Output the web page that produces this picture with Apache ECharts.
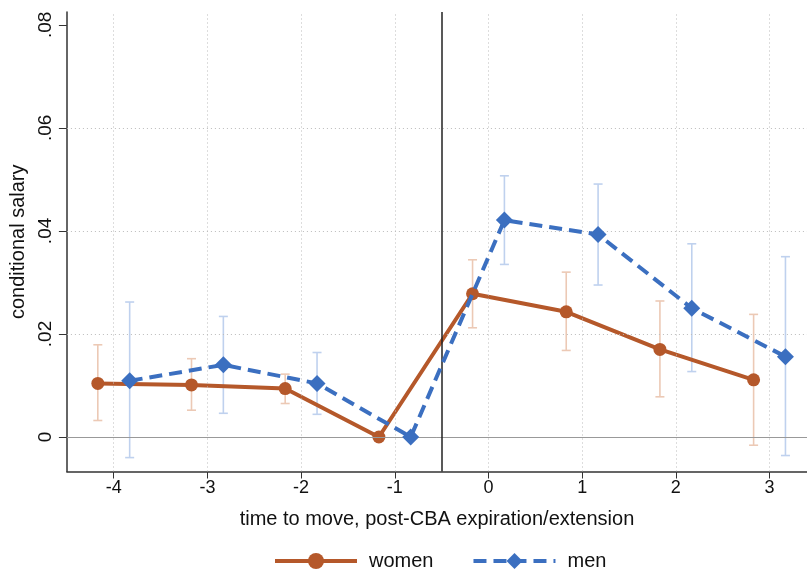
<!DOCTYPE html>
<html>
<head>
<meta charset="utf-8">
<script src="https://cdn.jsdelivr.net/npm/echarts@6/dist/echarts.min.js"></script>
<style>
  html, body { margin: 0; padding: 0; background: #fff; }
  #chart { width: 807px; height: 577px; }
</style>
</head>
<body>
<div id="chart"></div>
<script>
// data
const periods = [-4, -3, -2, -1, 0, 1, 2, 3];
const offset = 0.17; // women left, men right of each period

const womenVals = [0.0104, 0.0101, 0.0094, 0.0000, 0.0278, 0.0243, 0.0170, 0.0111];
const womenLow  = [0.0032, 0.0052, 0.0065, 0.0000, 0.0212, 0.0168, 0.0078, -0.0016];
const womenHigh = [0.0179, 0.0152, 0.0122, 0.0000, 0.0344, 0.0320, 0.0264, 0.0238];

const menVals = [0.0109, 0.0140, 0.0104, 0.0000, 0.0421, 0.0393, 0.0250, 0.0156];
const menLow  = [-0.0040, 0.0046, 0.0044, 0.0000, 0.0335, 0.0295, 0.0127, -0.0036];
const menHigh = [0.0262, 0.0234, 0.0164, 0.0000, 0.0507, 0.0491, 0.0375, 0.0350];

const yTicks = [0, 0.02, 0.04, 0.06, 0.08];
const yGrid = [0.02, 0.04, 0.06];
const eventLine = -0.5;

const brown = "#b5582a";
const blue = "#3b6fc0";
const brownCI = "#ecc9b5";
const blueCI = "#bfd1ee";
const font = "Liberation Sans, Arial, sans-serif";

const chart = echarts.init(document.getElementById("chart"));

const pts = (vals, dx) => periods.map((p, i) => [p + dx, vals[i]]);
const ciData = (lo, hi, dx) =>
  periods.map((p, i) => [p + dx, lo[i], hi[i]]).filter(d => d[1] !== d[2]);

const ciSeries = (name, data, color) => ({
  name: name,
  type: "custom",
  silent: true,
  z: 2,
  data: data,
  encode: { x: 0, y: [1, 2] },
  renderItem: (params, api) => {
    const x = api.value(0);
    const lo = api.coord([x, api.value(1)]);
    const hi = api.coord([x, api.value(2)]);
    const cap = 4.5;
    const style = { stroke: color, lineWidth: 1.6 };
    return {
      type: "group",
      children: [
        { type: "line", shape: { x1: lo[0], y1: lo[1], x2: hi[0], y2: hi[1] }, style: style },
        { type: "line", shape: { x1: lo[0] - cap, y1: lo[1], x2: lo[0] + cap, y2: lo[1] }, style: style },
        { type: "line", shape: { x1: hi[0] - cap, y1: hi[1], x2: hi[0] + cap, y2: hi[1] }, style: style }
      ]
    };
  }
});

const option = {
  animation: false,
  backgroundColor: "#fff",
  grid: { left: 66.5, right: 0, top: 12, bottom: 105.5, containLabel: false },
  xAxis: {
    type: "value",
    min: -4.5,
    max: 3.4,
    name: "time to move, post-CBA expiration/extension",
    nameLocation: "middle",
    nameGap: 38,
    nameTextStyle: { fontFamily: font, fontSize: 20, color: "#111" },
    axisLine: { show: true, onZero: false, lineStyle: { color: "#333", width: 1.5 } },
    axisTick: { show: true, length: 7, customValues: periods, lineStyle: { color: "#333", width: 1 } },
    axisLabel: {
      customValues: periods,
      fontFamily: font, fontSize: 18, color: "#111", margin: 8,
      formatter: v => String(v)
    },
    splitLine: { show: false }
  },
  yAxis: {
    type: "value",
    min: -0.0067,
    max: 0.0825,
    name: "conditional salary",
    nameLocation: "middle",
    nameGap: 34,
    nameRotate: 90,
    nameTextStyle: { fontFamily: font, fontSize: 20, color: "#111" },
    axisLine: { show: true, onZero: false, lineStyle: { color: "#333", width: 1.5 } },
    axisTick: { show: true, length: 8, customValues: yTicks, lineStyle: { color: "#333", width: 1 } },
    axisLabel: {
      customValues: yTicks,
      rotate: 90,
      fontFamily: font, fontSize: 19, color: "#111", margin: 12,
      formatter: v => (v === 0 ? "0" : v.toFixed(2).replace(/^0/, ""))
    },
    splitLine: { show: false }
  },
  legend: {
    top: 551,
    left: 273,
    padding: 0,
    itemWidth: 82,
    itemHeight: 20,
    itemGap: 38,
    textStyle: { fontFamily: font, fontSize: 20, color: "#111", padding: [0, 0, 0, 7] },
    data: [
      { name: "women", lineStyle: { width: 4 } },
      { name: "men", lineStyle: { width: 4, type: [13, 7] } }
    ]
  },
  series: [
    {
      name: "grid",
      type: "line",
      data: [],
      silent: true,
      markLine: {
        silent: true,
        symbol: "none",
        label: { show: false },
        animation: false,
        data: [
          ...yGrid.map(v => ({ yAxis: v, lineStyle: { color: "#bbb", type: [1, 3], width: 1 } })),
          ...periods.map(v => ({ xAxis: v, lineStyle: { color: "#bbb", type: [1, 3], width: 1 } })),
          { yAxis: 0, lineStyle: { color: "#999", type: "solid", width: 1 } },
          { xAxis: eventLine, lineStyle: { color: "#222", type: "solid", width: 1.5 } }
        ]
      }
    },
    ciSeries("women CI", ciData(womenLow, womenHigh, -offset), brownCI),
    ciSeries("men CI", ciData(menLow, menHigh, offset), blueCI),
    {
      name: "women",
      type: "line",
      z: 4,
      data: pts(womenVals, -offset),
      symbol: "circle",
      symbolSize: 13,
      itemStyle: { color: brown },
      lineStyle: { color: brown, width: 4 }
    },
    {
      name: "men",
      type: "line",
      z: 5,
      data: pts(menVals, offset),
      symbol: "diamond",
      symbolSize: 17,
      itemStyle: { color: blue },
      lineStyle: { color: blue, width: 4, type: [13, 7] }
    }
  ]
};

chart.setOption(option);
</script>
</body>
</html>
